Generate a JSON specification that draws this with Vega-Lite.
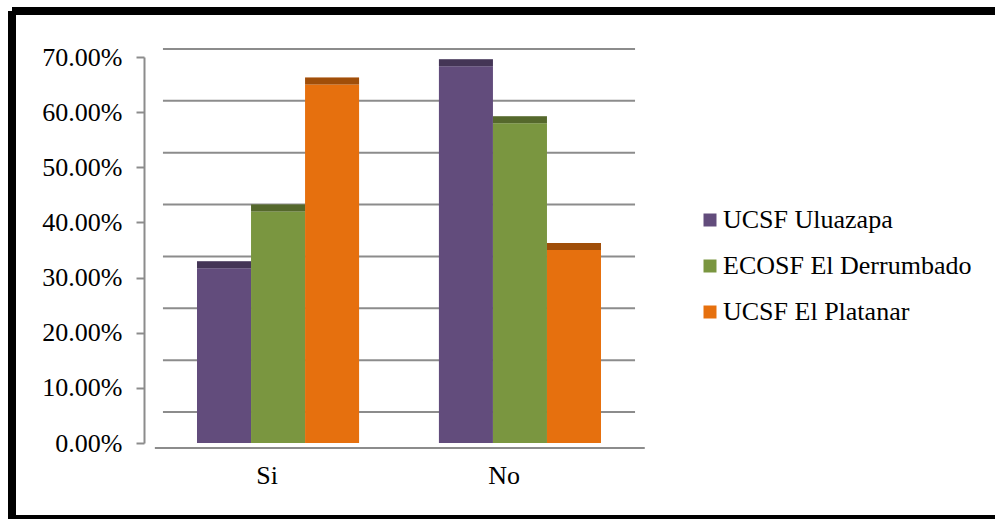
{
  "$schema": "https://vega.github.io/schema/vega-lite/v6.json",
  "width": 983,
  "height": 508,
  "autosize": {"type": "none"},
  "padding": {"left": 12, "top": 11, "right": 0, "bottom": 0},
  "background": "white",
  "config": {
    "font": "Liberation Serif, Times New Roman, DejaVu Serif, serif",
    "axis": {"labelFont": "Liberation Serif, Times New Roman, DejaVu Serif, serif"},
    "legend": {"labelFont": "Liberation Serif, Times New Roman, DejaVu Serif, serif"},
    "view": {"stroke": "black", "strokeWidth": 8, "strokeDash": [983, 508, 1491, 0]}
  },
  "datasets": {
    "respuestas": [
      {"respuesta": "Si", "unidad": "UCSF Uluazapa", "porcentaje": 0.317},
      {"respuesta": "Si", "unidad": "ECOSF El Derrumbado", "porcentaje": 0.42},
      {"respuesta": "Si", "unidad": "UCSF El Platanar", "porcentaje": 0.65},
      {"respuesta": "No", "unidad": "UCSF Uluazapa", "porcentaje": 0.683},
      {"respuesta": "No", "unidad": "ECOSF El Derrumbado", "porcentaje": 0.58},
      {"respuesta": "No", "unidad": "UCSF El Platanar", "porcentaje": 0.35}
    ],
    "escala": [
      {"v": 0}, {"v": 0.1}, {"v": 0.2}, {"v": 0.3},
      {"v": 0.4}, {"v": 0.5}, {"v": 0.6}, {"v": 0.7}
    ]
  },
  "resolve": {"scale": {"y": "independent"}},
  "layer": [
    {
      "data": {"name": "escala"},
      "mark": {"type": "rule", "color": "#8c8c8c", "strokeWidth": 2},
      "encoding": {
        "y": {"field": "v", "type": "quantitative", "scale": {"domain": [0, 0.7], "range": [401, 38], "nice": false}, "axis": null},
        "x": {"datum": "Si", "type": "nominal", "bandPosition": -0.21},
        "x2": {"datum": "No", "bandPosition": 1.21}
      }
    },
    {
      "data": {"name": "escala"},
      "transform": [{"filter": "datum.v == 0"}],
      "mark": {"type": "rule", "color": "#8c8c8c", "strokeWidth": 2},
      "encoding": {
        "y": {"field": "v", "type": "quantitative", "scale": {"domain": [0, 0.7], "range": [437, 46], "nice": false}, "axis": null},
        "x": {"datum": "Si", "type": "nominal", "bandPosition": -0.26},
        "x2": {"datum": "No", "bandPosition": 1.27}
      }
    },
    {
      "data": {"name": "respuestas"},
      "mark": {"type": "bar"},
      "encoding": {
        "x": {
          "field": "respuesta", "type": "nominal",
          "scale": {"domain": ["Si", "No"], "range": [140, 634], "paddingInner": 0.33, "paddingOuter": 0.186},
          "axis": {"title": null, "orient": "bottom", "offset": -44, "domain": false, "ticks": false, "labelAngle": 0, "labelFontSize": 26, "labelColor": "black", "labelPadding": 0}
        },
        "xOffset": {
          "field": "unidad", "type": "nominal",
          "scale": {"domain": ["UCSF Uluazapa", "ECOSF El Derrumbado", "UCSF El Platanar"], "paddingInner": 0, "paddingOuter": 0}
        },
        "y": {
          "field": "porcentaje", "type": "quantitative",
          "scale": {"domain": [0, 0.7], "range": [432, 46], "nice": false},
          "axis": {
            "values": [0, 0.1, 0.2, 0.3, 0.4, 0.5, 0.6, 0.7], "format": ".2%", "title": null,
            "offset": -132, "grid": false, "domainColor": "#8c8c8c", "domainWidth": 2,
            "tickColor": "#8c8c8c", "tickWidth": 2, "tickSize": 8,
            "labelFontSize": 26, "labelColor": "black", "labelPadding": 14
          }
        },
        "color": {
          "field": "unidad", "type": "nominal",
          "scale": {"domain": ["UCSF Uluazapa", "ECOSF El Derrumbado", "UCSF El Platanar"], "range": ["#624c7c", "#7a9640", "#e6700e"]},
          "legend": {
            "title": null, "orient": "none", "legendX": 685, "legendY": 196, "padding": 0,
            "symbolType": "square", "symbolSize": 169, "symbolStrokeWidth": 0, "symbolOpacity": 1,
            "labelFontSize": 26, "labelColor": "black", "labelOffset": 0, "rowPadding": 20, "labelLimit": 400
          }
        }
      }
    },
    {
      "data": {"name": "respuestas"},
      "mark": {"type": "tick", "thickness": 7, "size": 54, "yOffset": -3.5, "xOffset": 3, "opacity": 1},
      "encoding": {
        "x": {"field": "respuesta", "type": "nominal"},
        "xOffset": {"field": "unidad", "type": "nominal"},
        "y": {"field": "porcentaje", "type": "quantitative", "scale": {"domain": [0, 0.7], "range": [432, 46], "nice": false}, "axis": null},
        "color": {"field": "unidad", "type": "nominal"}
      }
    },
    {
      "data": {"name": "respuestas"},
      "mark": {"type": "tick", "thickness": 7, "size": 54, "yOffset": -3.5, "xOffset": 3, "color": "black", "opacity": 0.3},
      "encoding": {
        "x": {"field": "respuesta", "type": "nominal"},
        "xOffset": {"field": "unidad", "type": "nominal"},
        "y": {"field": "porcentaje", "type": "quantitative", "scale": {"domain": [0, 0.7], "range": [432, 46], "nice": false}, "axis": null}
      }
    }
  ]
}
